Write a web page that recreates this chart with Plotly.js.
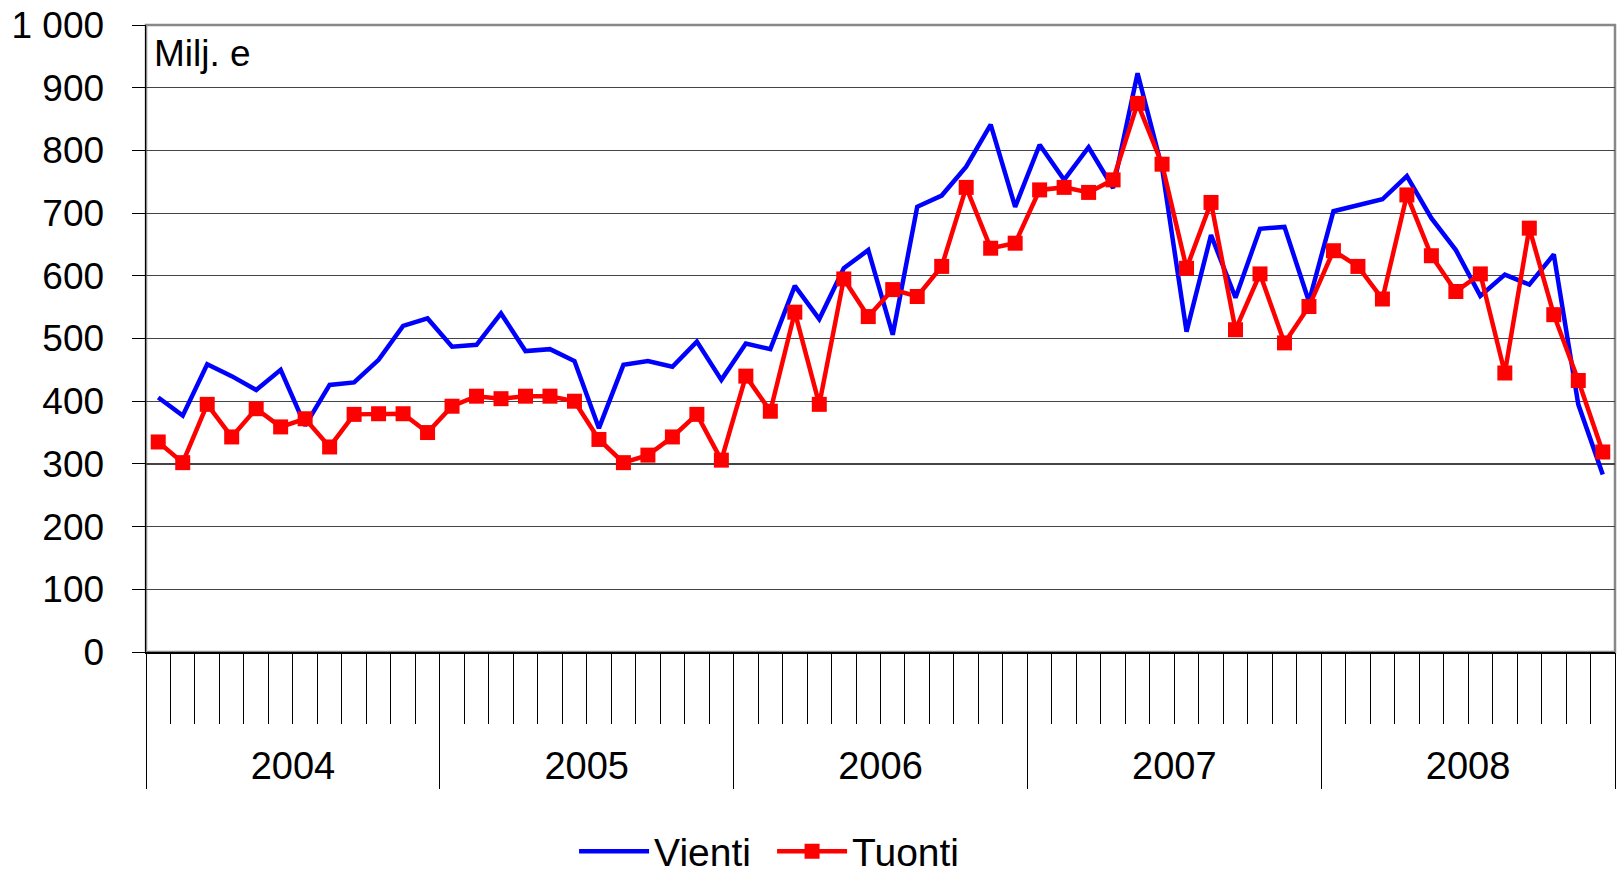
<!DOCTYPE html>
<html>
<head>
<meta charset="utf-8">
<script src="https://cdn.plot.ly/plotly-3.0.1.min.js"></script>
<style>
  html, body { margin: 0; padding: 0; background: #fff; }
  #chart { width: 1622px; height: 875px; }
</style>
</head>
<body>
<div id="chart"></div>
<script>
// monthly values 2004-2008, Milj. e
var years = ['2004', '2005', '2006', '2007', '2008'];
var vienti = [
    406, 377, 459, 440, 418, 450, 361, 426, 430, 466, 520, 532,
    487, 490, 540, 480, 483, 464, 357, 458, 464, 455, 495, 434,
    492, 483, 584, 531, 612, 641, 506, 710, 728, 774, 841, 710,
    809, 753, 805, 740, 923, 772, 511, 665, 565, 675, 678, 559,
    703, 712, 722, 759, 692, 641, 568, 602, 586, 634, 395, 283
];
var tuonti = [
    335, 302, 395, 343, 388, 359, 372, 327, 379, 380, 380, 350,
    392, 408, 404, 408, 408, 400, 339, 302, 314, 343, 379, 306,
    440, 384, 542, 395, 595, 535, 578, 567, 615, 741, 644, 652,
    737, 741, 733, 753, 875, 778, 612, 717, 514, 603, 493, 551,
    640, 615, 563, 729, 632, 575, 603, 445, 676, 538, 433, 319
];

var FONT = 'Liberation Sans, Arial, sans-serif';
var months = vienti.map(function (v, i) { return i; });
var nMonths = months.length;

// tick positions for the category axis
var monthBounds = [];
for (var i = 0; i < nMonths - 1; i++) monthBounds.push(i + 0.5);
var yearBounds = [];
var yearCenters = [];
for (var k = 0; k <= years.length; k++) yearBounds.push(k * 12 - 0.5);
for (var k = 0; k < years.length; k++) yearCenters.push(k * 12 + 5.5);

var xRange = [-0.5, nMonths - 0.5];

function update() {
    var data = [];
    data.push({
        x: months,
        y: vienti,
        mode: 'lines',
        line: { color: '#0000FF', width: 4.5 },
        name: 'Vienti'
    });
    data.push({
        x: months,
        y: tuonti,
        mode: 'lines+markers',
        line: { color: '#FF0000', width: 4.5 },
        marker: { color: '#FF0000', symbol: 'square', size: 15 },
        name: 'Tuonti'
    });

    var layout = {
        width: 1622,
        height: 875,
        margin: { l: 146, r: 7, t: 25, b: 223 },
        paper_bgcolor: '#ffffff',
        plot_bgcolor: '#ffffff',
        font: { family: FONT, color: '#000000', size: 37 },
        separators: ', ',
        showlegend: true,
        legend: {
            orientation: 'h',
            xref: 'container',
            yref: 'container',
            x: 0.476,
            xanchor: 'center',
            y: 0.027,
            yanchor: 'middle',
            font: { family: FONT, size: 39 },
            itemwidth: 70,
            entrywidth: 113,
            entrywidthmode: 'pixels',
            bgcolor: 'rgba(0,0,0,0)'
        },
        xaxis: {
            range: xRange,
            tickmode: 'array',
            tickvals: monthBounds,
            showticklabels: false,
            ticks: 'outside',
            ticklen: 70,
            tickwidth: 1,
            tickcolor: '#000000',
            showgrid: false,
            zeroline: false,
            showline: true,
            linecolor: '#000000',
            linewidth: 1.5,
            fixedrange: true
        },
        xaxis2: {
            overlaying: 'x',
            anchor: 'y',
            side: 'bottom',
            range: xRange,
            tickmode: 'array',
            tickvals: yearBounds,
            showticklabels: false,
            ticks: 'outside',
            ticklen: 136,
            tickwidth: 1,
            tickcolor: '#000000',
            showgrid: false,
            zeroline: false,
            showline: false
        },
        xaxis3: {
            overlaying: 'x',
            anchor: 'y',
            side: 'bottom',
            range: xRange,
            tickmode: 'array',
            tickvals: yearCenters,
            ticktext: years,
            ticks: 'outside',
            ticklen: 80,
            tickcolor: 'rgba(0,0,0,0)',
            tickfont: { family: FONT, size: 38 },
            showgrid: false,
            zeroline: false,
            showline: false
        },
        yaxis: {
            range: [0, 1000],
            tickmode: 'linear',
            tick0: 0,
            dtick: 100,
            separatethousands: true,
            ticks: 'outside',
            ticklen: 13,
            tickwidth: 1,
            tickcolor: '#000000',
            ticklabelstandoff: 20,
            tickfont: { family: FONT, size: 37 },
            showgrid: true,
            gridcolor: '#444444',
            gridwidth: 1.2,
            zeroline: false,
            showline: true,
            linecolor: '#000000',
            linewidth: 1.5,
            fixedrange: true
        },
        shapes: [{
            type: 'rect',
            xref: 'paper', yref: 'paper',
            x0: 0, x1: 1, y0: 0, y1: 1,
            line: { color: '#888888', width: 2.5 },
            layer: 'below'
        }],
        annotations: [{
            text: 'Milj. e',
            xref: 'paper', yref: 'paper',
            x: 0, y: 1,
            xanchor: 'left', yanchor: 'top',
            xshift: 6, yshift: -6,
            showarrow: false,
            font: { family: FONT, size: 37 }
        }]
    };

    // empty traces so the overlaying axes are drawn
    data.push({ x: [], y: [], xaxis: 'x2', showlegend: false, hoverinfo: 'skip' });
    data.push({ x: [], y: [], xaxis: 'x3', showlegend: false, hoverinfo: 'skip' });

    Plotly.newPlot('chart', data, layout, { staticPlot: true });
}

update();
</script>
</body>
</html>
